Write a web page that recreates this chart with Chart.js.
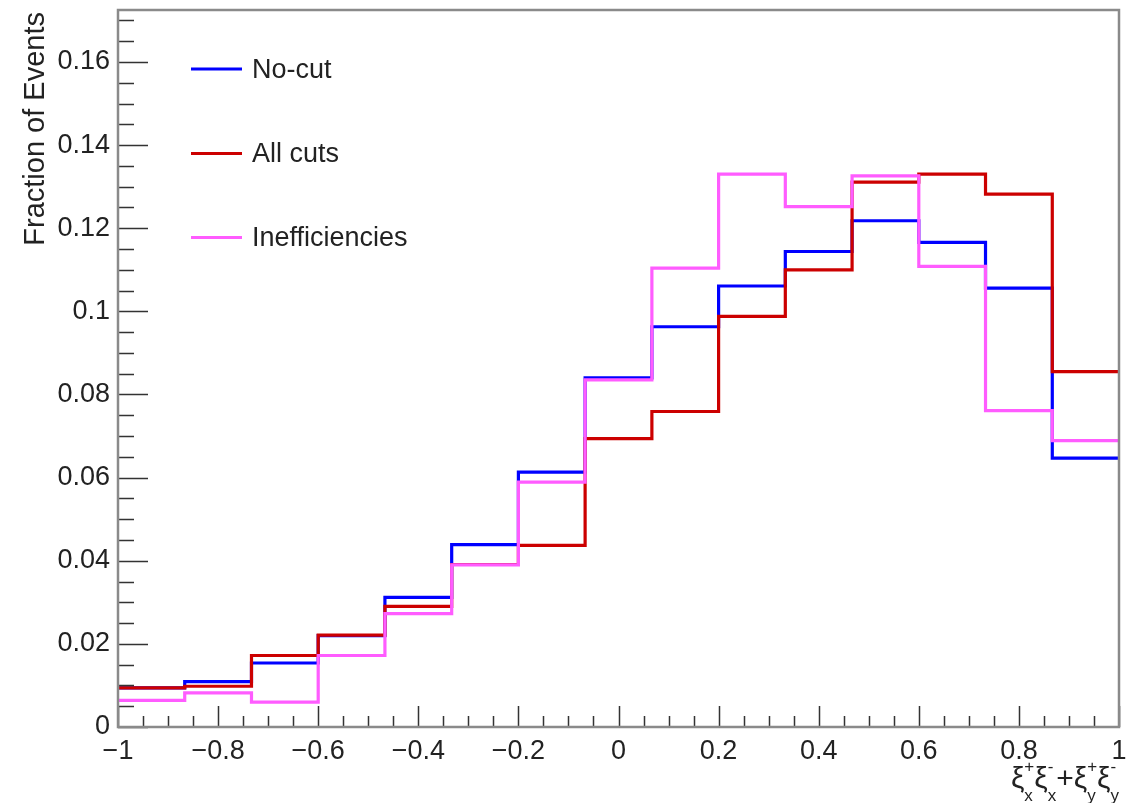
<!DOCTYPE html>
<html>
<head>
<meta charset="utf-8">
<script src="https://cdn.jsdelivr.net/npm/chart.js@4.4.1/dist/chart.umd.min.js"></script>
<style>
html,body{margin:0;padding:0;background:#fff;}
#wrap{width:1147px;height:803px;position:relative;}
</style>
</head>
<body>
<div id="wrap"><canvas id="c" width="1147" height="803"></canvas></div>
<script>
// Bin edges of the histogram (15 bins from -1 to 1)
const binEdges = [-1, -0.8667, -0.7333, -0.6, -0.4667, -0.3333, -0.2, -0.0667, 0.0667, 0.2, 0.3333, 0.4667, 0.6, 0.7333, 0.8667, 1];
const seriesNames = ["No-cut", "All cuts", "Inefficiencies"];
const noCut = [0.0094, 0.0109, 0.0154, 0.0220, 0.0312, 0.0439, 0.0613, 0.0840, 0.0963, 0.1061, 0.1144, 0.1218, 0.1166, 0.1056, 0.0647];
const allCuts = [0.0094, 0.0098, 0.0172, 0.0221, 0.0290, 0.0391, 0.0437, 0.0694, 0.0759, 0.0988, 0.1100, 0.1311, 0.1330, 0.1282, 0.0855];
const ineff = [0.0064, 0.0082, 0.0060, 0.0172, 0.0273, 0.0390, 0.0589, 0.0835, 0.1104, 0.1330, 0.1252, 0.1326, 0.1108, 0.0761, 0.0689];
const xTickValues = [-1, -0.8, -0.6, -0.4, -0.2, 0, 0.2, 0.4, 0.6, 0.8, 1];
const yTickValues = [0, 0.02, 0.04, 0.06, 0.08, 0.1, 0.12, 0.14, 0.16];
const xTitle = [["ξ","+","x"],["ξ","-","x"],["+","",""],["ξ","+","y"],["ξ","-","y"]];
const yTitle = "Fraction of Events";

const colors = ["#0000ff", "#cc0000", "#ff5cff"];
const FONT = "'Liberation Sans', Arial, Helvetica, sans-serif";

// point i sits at the left edge of bin i; one extra point closes the last bin at x = 1
function histPoints(vals){
  const pts = vals.map((v,i)=>({x: binEdges[i], y: v}));
  pts.push({x: binEdges[binEdges.length-1], y: vals[vals.length-1]});
  return pts;
}
function fmt(v){
  let s = String(Number(v.toFixed(4)));
  return s.replace('-', '\u2212');
}

const LEFT = 118, RIGHT_PAD = 28, TOP = 10, BOTTOM_H = 76;

const frameAndTicks = {
  id: 'frameAndTicks',
  afterDatasetsDraw(chart){
    const ctx = chart.ctx, a = chart.chartArea;
    const xs = chart.scales.x, ys = chart.scales.y;
    ctx.save();
    // minor & major ticks
    ctx.strokeStyle = '#333';
    ctx.lineWidth = 1.5;
    ctx.beginPath();
    for (let k = 0; k <= 40; k++){
      const v = -1 + k*0.05;
      const px = Math.round(xs.getPixelForValue(v)) + 0.5;
      const major = (k % 4 === 0);
      const len = major ? 21 : 11;
      ctx.moveTo(px, a.bottom);
      ctx.lineTo(px, a.bottom - len);
    }
    for (let k = 0; k <= 34; k++){
      const v = k*0.005;
      if (v > ys.max) break;
      const py = Math.round(ys.getPixelForValue(v)) + 0.5;
      const major = (k % 4 === 0);
      const len = major ? 30 : 16;
      ctx.moveTo(a.left, py);
      ctx.lineTo(a.left + len, py);
    }
    ctx.stroke();
    // frame
    ctx.strokeStyle = '#8a8a8a';
    ctx.lineWidth = 2.5;
    ctx.strokeRect(a.left, a.top, a.right - a.left, a.bottom - a.top);
    // legend
    ctx.font = '27px ' + FONT;
    ctx.textBaseline = 'middle';
    ctx.fillStyle = '#222';
    const ly = [69, 153.5, 237.5];
    seriesNames.forEach((n,i)=>{
      ctx.strokeStyle = colors[i];
      ctx.lineWidth = 3.2;
      ctx.beginPath();
      ctx.moveTo(191, ly[i]); ctx.lineTo(242, ly[i]);
      ctx.stroke();
      ctx.fillText(n, 252, ly[i] + 1.5);
    });
    // y title (rotated, right-aligned at top)
    ctx.save();
    ctx.translate(44, 12);
    ctx.rotate(-Math.PI/2);
    ctx.textAlign = 'right';
    ctx.textBaseline = 'alphabetic';
    ctx.font = '29px ' + FONT;
    ctx.fillText(yTitle, 0, 0);
    ctx.restore();
    // x title with sub/superscripts, right-aligned
    const bigF = '30px ' + FONT, smallF = '17px ' + FONT;
    let widths = xTitle.map(p=>{
      ctx.font = bigF; const w1 = ctx.measureText(p[0]).width;
      ctx.font = smallF; const w2 = Math.max(ctx.measureText(p[1]).width, ctx.measureText(p[2]).width);
      return w1 + w2;
    });
    const total = widths.reduce((s,w)=>s+w,0);
    let x = 1119 - total;
    const base = 788;
    ctx.textAlign = 'left';
    ctx.textBaseline = 'alphabetic';
    xTitle.forEach((p,i)=>{
      ctx.font = bigF; ctx.fillText(p[0], x, base);
      const w1 = ctx.measureText(p[0]).width;
      ctx.font = smallF;
      if (p[1]) ctx.fillText(p[1], x + w1, base - 16);
      if (p[2]) ctx.fillText(p[2], x + w1, base + 13);
      x += widths[i];
    });
    ctx.restore();
  }
};

new Chart(document.getElementById('c'), {
  type: 'line',
  data: {
    datasets: [
      {label: seriesNames[0], data: histPoints(noCut), borderColor: colors[0], order: 3},
      {label: seriesNames[1], data: histPoints(allCuts), borderColor: colors[1], order: 2},
      {label: seriesNames[2], data: histPoints(ineff), borderColor: colors[2], order: 1}
    ].map(d=>Object.assign(d, {stepped: 'before', borderWidth: 3.2, pointRadius: 0, fill: false, tension: 0, borderCapStyle: 'butt', borderJoinStyle: 'miter'}))
  },
  options: {
    responsive: false,
    animation: false,
    devicePixelRatio: 1,
    layout: {padding: {left: 0, right: RIGHT_PAD, top: TOP, bottom: 0}},
    plugins: {legend: {display: false}, tooltip: {enabled: false}},
    scales: {
      x: {
        type: 'linear', min: -1, max: 1,
        afterFit(s){ s.height = BOTTOM_H; s.paddingLeft = 0; s.paddingRight = 0; },
        afterBuildTicks(s){ s.ticks = xTickValues.map(v=>({value: v})); },
        grid: {display: false, drawTicks: false},
        border: {display: false},
        ticks: {padding: 8, font: {size: 27, family: FONT}, color: '#222', maxRotation: 0, autoSkip: false, callback: v=>fmt(v)}
      },
      y: {
        type: 'linear', min: 0, max: 0.1725,
        afterFit(s){ s.width = LEFT; s.paddingTop = 0; s.paddingBottom = 0; },
        afterBuildTicks(s){ s.ticks = yTickValues.map(v=>({value: v})); },
        grid: {display: false, drawTicks: false},
        border: {display: false},
        ticks: {padding: 8, font: {size: 27, family: FONT}, color: '#222', autoSkip: false, callback: v=>fmt(v)}
      }
    }
  },
  plugins: [frameAndTicks]
});
</script>
</body>
</html>
